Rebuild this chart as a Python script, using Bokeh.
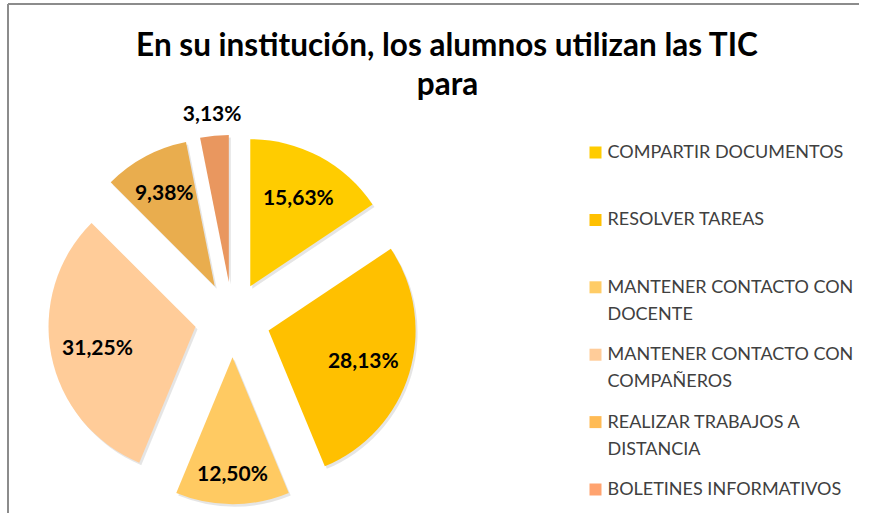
import numpy as np
from bokeh.plotting import figure
from bokeh.models import Range1d, ColumnDataSource
from bokeh.core.properties import value
from bokeh.embed import file_html
from bokeh.resources import INLINE

# ---------------- data ----------------
title_lines = ["En su institución, los alumnos utilizan las TIC", "para"]
categories = ["COMPARTIR DOCUMENTOS", "RESOLVER TAREAS",
              "MANTENER CONTACTO CON DOCENTE", "MANTENER CONTACTO CON COMPAÑEROS",
              "REALIZAR TRABAJOS A DISTANCIA", "BOLETINES INFORMATIVOS"]
legend_lines = [["COMPARTIR DOCUMENTOS"], ["RESOLVER TAREAS"],
                ["MANTENER CONTACTO CON", "DOCENTE"],
                ["MANTENER CONTACTO CON", "COMPAÑEROS"],
                ["REALIZAR TRABAJOS A", "DISTANCIA"],
                ["BOLETINES INFORMATIVOS"]]
percent = [15.63, 28.13, 12.50, 31.25, 9.38, 3.13]
percent_labels = ["15,63%", "28,13%", "12,50%", "31,25%", "9,38%", "3,13%"]
legend_colors = ["#FFCC00", "#FFC000", "#FFCC66", "#FFCC99", "#FFBB55", "#FFA36F"]
slice_colors = ["#FFCC00", "#FFC000", "#FFCA62", "#FFCC99", "#E9AD4E", "#E9975F"]

# ---------------- layout ----------------
W, H = 859, 513
CX, CY = 232, -319          # pie centre (px, y up = negative)
R = 147                     # radius
EXPLODE = 37.7
label_radius = [102, 99, 115, 100, 107, 170]
FONT = "Lato"

p = figure(width=W, height=H, x_range=Range1d(0, W), y_range=Range1d(-H, 0),
           output_backend="svg", toolbar_location=None, min_border=0,
           x_axis_location=None, y_axis_location=None, outline_line_color=None,
           background_fill_color="white", border_fill_color="white")
p.grid.visible = False

# border (top and left)
p.line([7.5, W], [-3.5, -3.5], line_color="#8C8C8C", line_width=2)
p.line([7.5, 7.5], [-3.5, -H], line_color="#8C8C8C", line_width=2)

# pie geometry
vals = np.array(percent, dtype=float)
frac = vals / vals.sum()
cum = np.concatenate([[0], np.cumsum(frac)])
start = np.pi / 2 - 2 * np.pi * cum[:-1]
end = np.pi / 2 - 2 * np.pi * cum[1:]
mid = (start + end) / 2
xs = CX + EXPLODE * np.cos(mid)
ys = CY + EXPLODE * np.sin(mid)

src = ColumnDataSource(dict(x=xs, y=ys, sx=xs + 2, sy=ys - 2.5, start=start, end=end,
                            color=slice_colors, cat=categories))
p.wedge(x="sx", y="sy", radius=R, start_angle="end", end_angle="start",
        direction="anticlock", fill_color="#000000", fill_alpha=0.10, line_color=None, source=src)
p.wedge(x="x", y="y", radius=R, start_angle="end", end_angle="start",
        direction="anticlock", fill_color="color", line_color=None, source=src)

# data labels
lr = np.array(label_radius, dtype=float)
lx = xs + lr * np.cos(mid)
ly = ys + lr * np.sin(mid)
p.text(x=lx, y=ly, text=percent_labels, text_align="center", text_baseline="middle",
       text_font=value(FONT), text_font_style="bold", text_font_size="21px", text_color="#000000")

# title
p.text(x=[447, 447], y=[-43, -82], text=title_lines, text_align="center",
       text_baseline="middle", text_font=value(FONT), text_font_style="bold",
       text_font_size="31.5px", text_color="#000000")

# legend
LEG_Y0, LEG_STEP, LINE_STEP = 152, 67.4, 27
mx, my, tx, ty, tt = [], [], [], [], []
for i, lines in enumerate(legend_lines):
    y0 = LEG_Y0 + LEG_STEP * i
    mx.append(595)
    my.append(-y0)
    for j, t in enumerate(lines):
        tx.append(607)
        ty.append(-(y0 + LINE_STEP * j - 1.5))
        tt.append(t)
p.rect(x=mx, y=my, width=12, height=12, fill_color=legend_colors, line_color=None)
p.text(x=tx, y=ty, text=tt, text_align="left", text_baseline="middle",
       text_font=value(FONT), text_font_size="18px", text_color="#404040")

open("out.html", "w").write(file_html(p, INLINE))
